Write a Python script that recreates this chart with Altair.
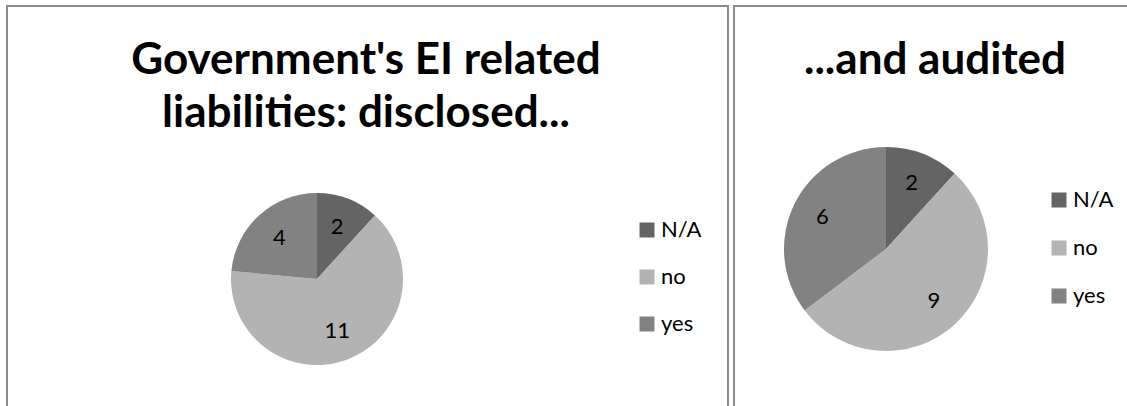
import altair as alt
import pandas as pd

categories = ["N/A", "no", "yes"]
disclosed_values = [2, 11, 4]
audited_values = [2, 9, 6]
slice_order = [0, 1, 2]
colors = ["#646464", "#b3b3b3", "#828282"]
title_left = ["Government's EI related", "liabilities: disclosed..."]
title_right = ["...and audited"]

FONT = "Lato"
BORDER = "#8c8c8c"

df_left = pd.DataFrame({"category": categories, "value": disclosed_values, "order": slice_order})
df_right = pd.DataFrame({"category": categories, "value": audited_values, "order": slice_order})
one = pd.DataFrame({"a": [0]})


def pie(df, cx, cy, r, label_r, lx, ly, row_pad):
    base = alt.Chart(df).encode(
        theta=alt.Theta("value:Q", stack=True),
        order=alt.Order("order:Q"),
    )
    arc = base.mark_arc(radius=r).encode(
        x=alt.value(cx),
        y=alt.value(cy),
        color=alt.Color(
            "category:N",
            scale=alt.Scale(domain=categories, range=colors),
            legend=alt.Legend(
                title=None, orient="none", legendX=lx, legendY=ly,
                symbolType="square", symbolSize=225, symbolStrokeWidth=0,
                symbolOpacity=1,
                labelFontSize=22, labelFont=FONT, labelColor="#000000",
                labelOffset=3, rowPadding=row_pad, padding=0,
            ),
        ),
    )
    text = base.mark_text(radius=label_r, font=FONT, fontSize=22, color="#000000").encode(
        x=alt.value(cx), y=alt.value(cy), text="value:Q"
    )
    return alt.layer(arc, text)


def frame(x1, x2):
    return alt.Chart(one).mark_rect(filled=False, stroke=BORDER, strokeWidth=2).encode(
        x=alt.value(x1), x2=alt.value(x2), y=alt.value(6), y2=alt.value(440)
    )


def title(lines, cx, y):
    return alt.Chart(one).mark_text(
        font=FONT, fontSize=44, fontWeight="bold", color="#000000",
        lineBreak="\n", lineHeight=53, baseline="middle", align="center",
    ).encode(x=alt.value(cx), y=alt.value(y), text=alt.value("\n".join(lines)))


chart = alt.layer(
    frame(7, 728),
    frame(734, 1160),
    title(title_left, 366, 61),
    title(title_right, 935, 61),
    pie(df_left, 317, 279, 86, 56, 636, 219, 25),
    pie(df_right, 886, 249, 102, 71, 1048, 189, 26),
).resolve_scale(color="independent", theta="independent").properties(
    width=1127, height=406, padding=0,
    autosize=alt.AutoSizeParams(type="none"),
).configure_view(stroke=None)

chart.save("out.html", embed_options={"renderer": "svg", "actions": False})
